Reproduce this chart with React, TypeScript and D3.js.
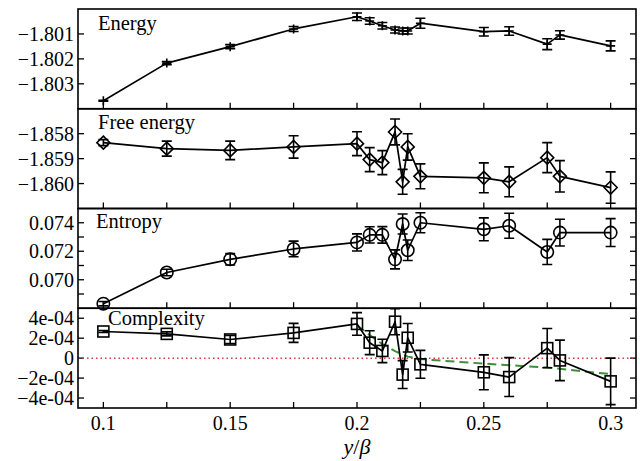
import React from "react";
import * as d3 from "d3";

// ---------- data ----------
const xValues = [0.1, 0.125, 0.15, 0.175, 0.2, 0.205, 0.21, 0.215, 0.218, 0.22, 0.225, 0.25, 0.26, 0.275, 0.28, 0.3];

const energy = [-1.80368, -1.80217, -1.80151, -1.8008, -1.80031, -1.80048, -1.80067, -1.80084, -1.80088, -1.80088, -1.80057, -1.80091, -1.80088, -1.80141, -1.80104, -1.80148];
const energyErr = [0.00002, 0.00006, 0.00008, 0.0001, 0.00015, 0.00013, 0.00013, 0.00012, 0.00012, 0.00012, 0.0002, 0.00017, 0.00017, 0.00022, 0.00017, 0.0002];

const freeEnergy = [-1.85836, -1.8586, -1.85867, -1.85853, -1.8584, -1.85904, -1.85916, -1.85793, -1.85993, -1.85853, -1.85971, -1.85977, -1.85993, -1.85896, -1.85971, -1.86016];
const freeEnergyErr = [0.00012, 0.0003, 0.00037, 0.00045, 0.00048, 0.00048, 0.00048, 0.00052, 0.0005, 0.00053, 0.0005, 0.0006, 0.0006, 0.0006, 0.00063, 0.00063];

const entropy = [0.06832, 0.07051, 0.07143, 0.07216, 0.07262, 0.07315, 0.07315, 0.07143, 0.07391, 0.07207, 0.074, 0.07354, 0.07379, 0.07195, 0.07331, 0.07331];
const entropyErr = [0.00015, 0.00023, 0.0004, 0.00055, 0.0006, 0.00057, 0.00058, 0.00067, 0.0007, 0.00072, 0.0007, 0.0008, 0.00088, 0.00088, 0.00094, 0.00098];

const complexity = [2.67e-4, 2.43e-4, 1.87e-4, 2.53e-4, 3.43e-4, 1.55e-4, 0.72e-4, 3.65e-4, -1.65e-4, 2.04e-4, -0.62e-4, -1.42e-4, -1.9e-4, 1.0e-4, -0.23e-4, -2.33e-4];
const complexityErr = [0.1e-4, 0.2e-4, 0.4e-4, 0.95e-4, 1.13e-4, 1.2e-4, 1.17e-4, 1.3e-4, 1.4e-4, 1.43e-4, 1.4e-4, 1.75e-4, 1.95e-4, 1.97e-4, 2.03e-4, 2.33e-4];

const fitX = [0.2, 0.205, 0.21, 0.215, 0.22, 0.225, 0.25, 0.275, 0.3];
const fitY = [3.3e-4, 2.3e-4, 1.4e-4, 0.7e-4, 0.15e-4, -0.1e-4, -0.55e-4, -0.95e-4, -1.6e-4];

const xTickValues = [0.1, 0.125, 0.15, 0.175, 0.2, 0.225, 0.25, 0.275, 0.3];
const xLabelValues = [0.1, 0.15, 0.2, 0.25, 0.3];
const xLabelTexts = ["0.1", "0.15", "0.2", "0.25", "0.3"];

const energyTicks = [-1.801, -1.802, -1.803];
const energyLabels = ["\u22121.801", "\u22121.802", "\u22121.803"];
const freeTicks = [-1.858, -1.859, -1.86];
const freeLabels = ["\u22121.858", "\u22121.859", "\u22121.860"];
const entropyTicks = [0.069, 0.07, 0.071, 0.072, 0.073, 0.074];
const entropyLabelValues = [0.07, 0.072, 0.074];
const entropyLabels = ["0.070", "0.072", "0.074"];
const complexityTicks = [4e-4, 2e-4, 0, -2e-4, -4e-4];
const complexityLabels = ["4e-04", "2e-04", "0", "\u22122e-04", "\u22124e-04"];

const panelNames = ["Energy", "Free energy", "Entropy", "Complexity"];

// ---------- layout ----------
const W = 640;
const H = 461;
const LEFT = 78;
const RIGHT = 636;
const TOP = 9;
const BOTTOM = 408;
const PH = (BOTTOM - TOP) / 4;
const FONT = "'Liberation Serif', 'Times New Roman', Times, serif";
const TICK = 6;

type Marker = "plus" | "diamond" | "circle" | "square";

const panels = [
  { name: panelNames[0], values: energy, errs: energyErr, domain: [-1.804, -1.8], ticks: energyTicks, labelValues: energyTicks, labels: energyLabels, marker: "plus" as Marker, lx: 98, ly: 21 },
  { name: panelNames[1], values: freeEnergy, errs: freeEnergyErr, domain: [-1.861, -1.857], ticks: freeTicks, labelValues: freeTicks, labels: freeLabels, marker: "diamond" as Marker, lx: 98, ly: 20 },
  { name: panelNames[2], values: entropy, errs: entropyErr, domain: [0.068, 0.075], ticks: entropyTicks, labelValues: entropyLabelValues, labels: entropyLabels, marker: "circle" as Marker, lx: 96, ly: 19 },
  { name: panelNames[3], values: complexity, errs: complexityErr, domain: [-5e-4, 5e-4], ticks: complexityTicks, labelValues: complexityTicks, labels: complexityLabels, marker: "square" as Marker, lx: 108, ly: 17 },
];

function markerEl(type: Marker, cx: number, cy: number, key: string) {
  const s = { fill: "none", stroke: "#000", strokeWidth: 1.6 };
  if (type === "plus") {
    const r = 4.5;
    return <path key={key} d={`M${cx - r},${cy}H${cx + r}M${cx},${cy - r}V${cy + r}`} {...s} />;
  }
  if (type === "diamond") {
    const r = 6.5;
    return <path key={key} d={`M${cx},${cy - r}L${cx + r},${cy}L${cx},${cy + r}L${cx - r},${cy}Z`} {...s} />;
  }
  if (type === "circle") {
    return <circle key={key} cx={cx} cy={cy} r={6.2} {...s} />;
  }
  const h = 5.5;
  return <rect key={key} x={cx - h} y={cy - h} width={2 * h} height={2 * h} {...s} />;
}

export default function App() {
  const x = d3.scaleLinear().domain([0.09, 0.31]).range([LEFT, RIGHT]);

  return (
    <svg width={W} height={H} style={{ position: "absolute", left: 0, top: 0, background: "#fff" }} fontFamily={FONT}>
      <rect x={0} y={0} width={W} height={H} fill="#fff" />
      {panels.map((p, i) => {
        const top = TOP + i * PH;
        const bot = top + PH;
        const y = d3.scaleLinear().domain(p.domain).range([bot, top]);
        const pts: [number, number][] = xValues.map((xv, j) => [x(xv), y(p.values[j])]);
        const line = d3.line()(pts) || "";
        const cap = 5;
        return (
          <g key={p.name}>
            {xTickValues.map((t) => (
              <line key={"xt" + t} x1={x(t)} x2={x(t)} y1={bot} y2={bot - TICK} stroke="#000" strokeWidth={1.3} />
            ))}
            {p.ticks.map((t) => (
              <g key={"yt" + t}>
                <line x1={LEFT} x2={LEFT + TICK} y1={y(t)} y2={y(t)} stroke="#000" strokeWidth={1.3} />
                <line x1={RIGHT} x2={RIGHT - TICK} y1={y(t)} y2={y(t)} stroke="#000" strokeWidth={1.3} />
              </g>
            ))}
            {p.labelValues.map((t, k) => (
              <text key={"yl" + t} x={LEFT - 4} y={y(t)} dy="0.35em" textAnchor="end" fontSize={20} fill="#000">
                {p.labels[k]}
              </text>
            ))}
            {i === 3 && (
              <>
                <line x1={LEFT} x2={RIGHT} y1={y(0)} y2={y(0)} stroke="#e0393c" strokeWidth={1.5} strokeDasharray="1.5 3" />
                <path
                  d={d3.line()(fitX.map((fx, k) => [x(fx), y(fitY[k])] as [number, number])) || ""}
                  fill="none"
                  stroke="#3f8f3a"
                  strokeWidth={2}
                  strokeDasharray="9 5"
                />
              </>
            )}
            <path d={line} fill="none" stroke="#000" strokeWidth={1.7} strokeLinejoin="round" />
            {xValues.map((xv, j) => {
              const cx = x(xv);
              const y1 = y(p.values[j] - p.errs[j]);
              const y2 = y(p.values[j] + p.errs[j]);
              return (
                <path
                  key={"e" + j}
                  d={`M${cx},${y1}V${y2}M${cx - cap},${y1}H${cx + cap}M${cx - cap},${y2}H${cx + cap}`}
                  fill="none"
                  stroke="#000"
                  strokeWidth={1.6}
                />
              );
            })}
            {pts.map(([cx, cy], j) => markerEl(p.marker, cx, cy, "m" + j))}
            <text x={p.lx} y={top + p.ly} fontSize={20.5} fill="#000">
              {p.name}
            </text>
            <rect x={LEFT} y={top} width={RIGHT - LEFT} height={PH} fill="none" stroke="#000" strokeWidth={1.6} />
          </g>
        );
      })}
      {xLabelValues.map((t, k) => (
        <text key={"xl" + t} x={x(t)} y={430} textAnchor="middle" fontSize={20} fill="#000">
          {xLabelTexts[k]}
        </text>
      ))}
      <text x={(LEFT + RIGHT) / 2} y={454} textAnchor="middle" fontSize={22} fill="#000">
        <tspan fontStyle="italic">y</tspan>/<tspan fontStyle="italic">β</tspan>
      </text>
    </svg>
  );
}
